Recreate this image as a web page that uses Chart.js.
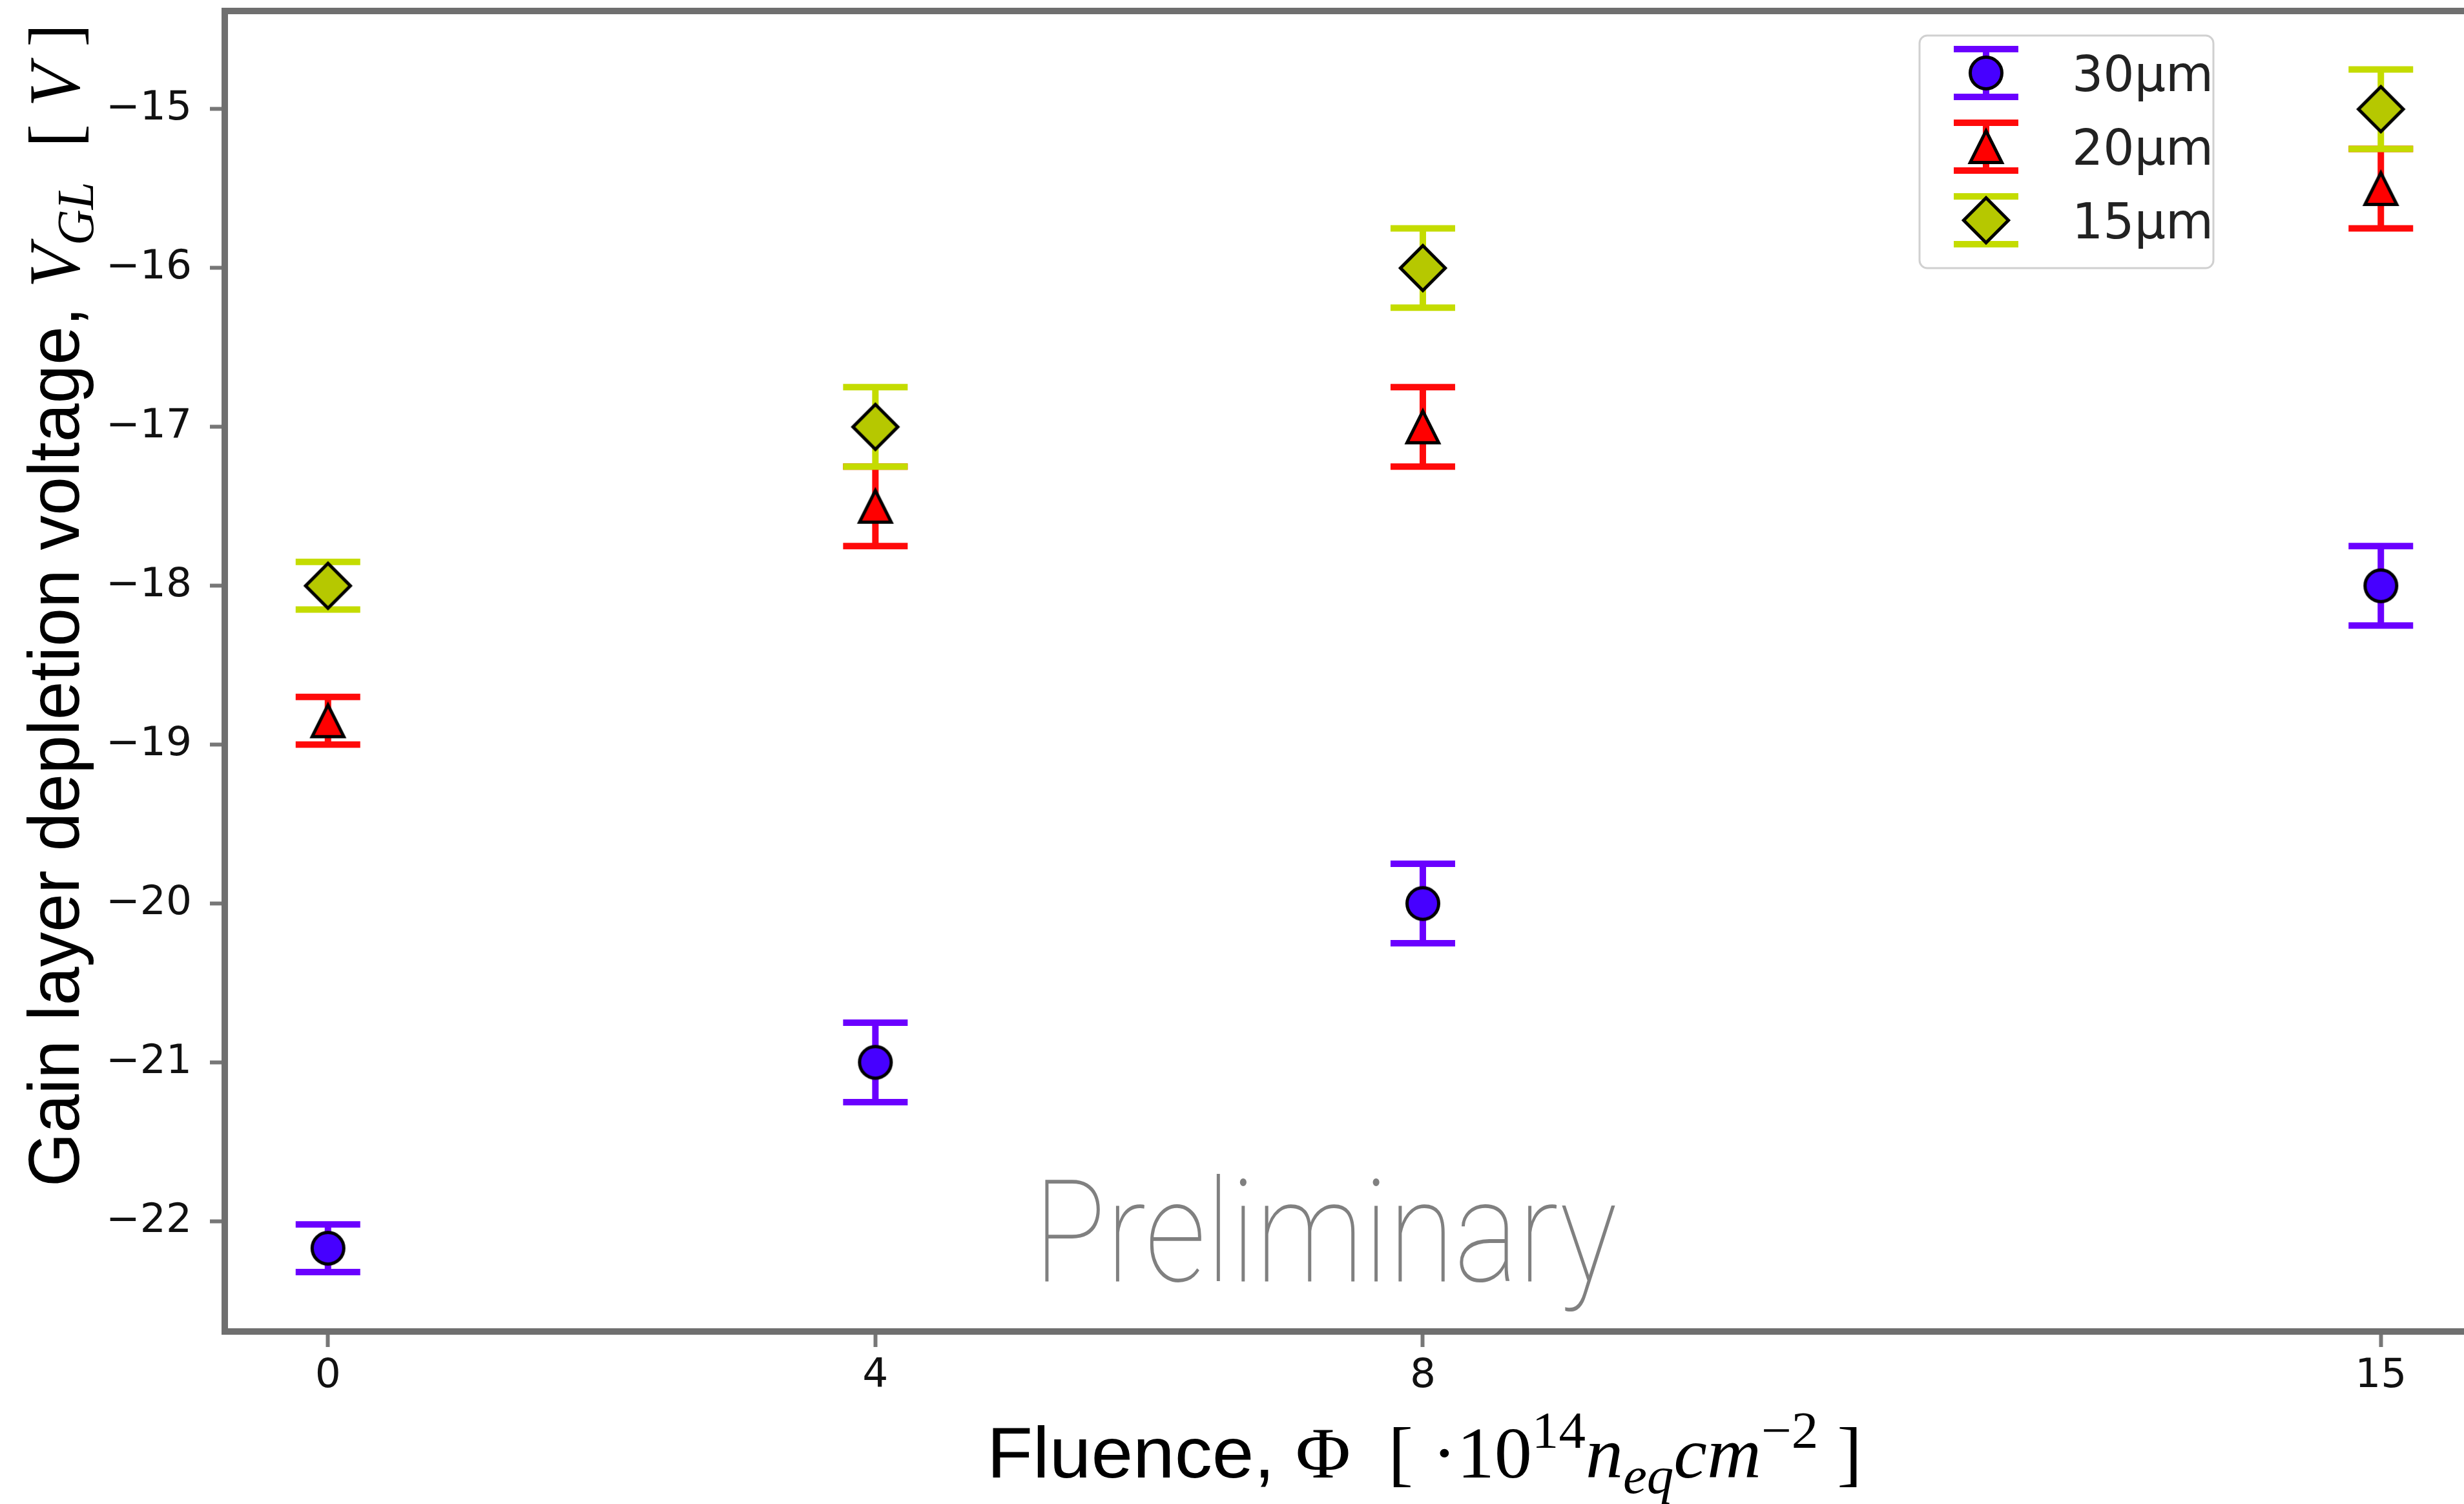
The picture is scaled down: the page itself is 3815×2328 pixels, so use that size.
<!DOCTYPE html>
<html>
<head>
<meta charset="utf-8">
<title>Gain layer depletion voltage vs fluence</title>
<script src="https://cdn.jsdelivr.net/npm/chart.js@4.4.1/dist/chart.umd.min.js"></script>
<style>
  html, body { margin: 0; padding: 0; background: #fff; }
  canvas { display: block; }
</style>
</head>
<body>
<canvas id="vgl" width="3815" height="2328" style="width:3815px;height:2328px"></canvas>
<script>
// fluence in 1e14 neq/cm2, voltages in V
const fluence = [0, 4, 8, 15];
const v30 = [-22.17, -21, -20, -18];
const e30 = [0.15, 0.25, 0.25, 0.25];
const v20 = [-18.85, -17.5, -17, -15.5];
const e20 = [0.15, 0.25, 0.25, 0.25];
const v15 = [-18, -17, -16, -15];
const e15 = [0.15, 0.25, 0.25, 0.25];
const seriesNames = ['30µm', '20µm', '15µm'];
const xTicks = [0, 4, 8, 15];
const yTicks = [-22, -21, -20, -19, -18, -17, -16, -15];

const MS = 49;        // marker size
const CAP = 50;       // half cap width
const FRAME = '#6f6f6f';

// matplotlib-like markers with black edge, drawn once into small canvases
function makeMarker(shape, fill) {
    const lw = 5;
    const half = shape === 'diamond' ? MS / 2 * Math.SQRT2 : MS / 2;
    const size = 2 * Math.ceil(half + lw + 6);
    const c = document.createElement('canvas');
    c.width = c.height = size;
    const g = c.getContext('2d');
    g.translate(size / 2, size / 2);
    g.beginPath();
    if (shape === 'circle') {
        g.arc(0, 0, half, 0, Math.PI * 2);
    } else if (shape === 'triangle') {
        g.moveTo(0, -half); g.lineTo(half, half); g.lineTo(-half, half); g.closePath();
    } else {
        g.moveTo(0, -half); g.lineTo(half, 0); g.lineTo(0, half); g.lineTo(-half, 0); g.closePath();
    }
    g.fillStyle = fill;
    g.fill();
    g.lineWidth = lw;
    g.lineJoin = 'miter';
    g.strokeStyle = '#000';
    g.stroke();
    return c;
}

const markers = [
    makeMarker('circle', '#4600ff'),
    makeMarker('triangle', '#ff0000'),
    makeMarker('diamond', '#b6c800')
];
const barColors = ['#6a00ff', '#ff0a0a', '#c4dc00'];

const toPoints = ys => fluence.map((x, i) => ({ x: x, y: ys[i] }));
const minus = v => (v < 0 ? '\u2212' : '') + Math.abs(v);

function drawErrBar(ctx, x, yTop, yBot, color) {
    ctx.strokeStyle = color;
    ctx.lineWidth = 10;
    ctx.lineCap = 'butt';
    ctx.beginPath();
    ctx.moveTo(x, yTop); ctx.lineTo(x, yBot);
    ctx.moveTo(x - CAP, yTop); ctx.lineTo(x + CAP, yTop);
    ctx.moveTo(x - CAP, yBot); ctx.lineTo(x + CAP, yBot);
    ctx.stroke();
}

// text made of runs (sans / serif / italic, sub and superscripts), squeezed to a width
function drawRuns(ctx, runs, x, y, width, rotated) {
    let total = 0;
    runs.forEach(r => { ctx.font = r.font; r.w = ctx.measureText(r.t).width; total += r.w; });
    ctx.save();
    ctx.translate(x, y);
    if (rotated) ctx.rotate(-Math.PI / 2);
    ctx.scale(width / total, 1);
    ctx.fillStyle = '#000';
    ctx.textBaseline = 'alphabetic';
    let cx = 0;
    runs.forEach(r => { ctx.font = r.font; ctx.fillText(r.t, cx, r.dy || 0); cx += r.w; });
    ctx.restore();
}

const SANS = "112px 'Liberation Sans', Arial, sans-serif";
const SERIF = "112px 'Liberation Serif', 'DejaVu Serif', serif";
const ITAL = "italic 112px 'Liberation Serif', 'DejaVu Serif', serif";
const SMALL = "80px 'Liberation Serif', 'DejaVu Serif', serif";
const SMALL_IT = "italic 80px 'Liberation Serif', 'DejaVu Serif', serif";

const errorBars = {
    id: 'errorBars',
    beforeDatasetsDraw(chart) {
        // watermark
        const ctx = chart.ctx;
        ctx.save();
        ctx.font = "100 220px Roboto, Lato, Inter, 'DejaVu Sans', sans-serif";
        const m = ctx.measureText('Preliminary');
        const ink = m.actualBoundingBoxLeft + m.actualBoundingBoxRight;
        ctx.translate(1618, 1983);
        ctx.scale(883 / ink, 1);
        ctx.fillStyle = '#808080';
        ctx.fillText('Preliminary', m.actualBoundingBoxLeft, 0);
        ctx.restore();
    },
    beforeDatasetDraw(chart, args) {
        const ds = chart.data.datasets[args.index];
        const xs = chart.scales.x, ys = chart.scales.y;
        const ctx = chart.ctx;
        ctx.save();
        ds.data.forEach((p, i) => {
            drawErrBar(ctx, xs.getPixelForValue(p.x),
                ys.getPixelForValue(p.y + ds.errors[i]),
                ys.getPixelForValue(p.y - ds.errors[i]), ds.barColor);
        });
        ctx.restore();
    },
    afterDatasetsDraw(chart) {
        const ctx = chart.ctx;
        const a = chart.chartArea;
        ctx.save();
        ctx.strokeStyle = FRAME;
        ctx.lineWidth = 10;
        ctx.lineCap = 'square';
        ctx.beginPath();
        ctx.moveTo(chart.width + 10, a.top);
        ctx.lineTo(a.left, a.top);
        ctx.lineTo(a.left, a.bottom);
        ctx.lineTo(chart.width + 10, a.bottom);
        ctx.stroke();
        ctx.restore();
    },
    afterDraw(chart) {
        const ctx = chart.ctx;
        // legend
        ctx.save();
        ctx.beginPath();
        ctx.roundRect(2972, 55, 455, 360, 12);
        ctx.fillStyle = 'rgba(255,255,255,0.8)';
        ctx.fill();
        ctx.lineWidth = 3;
        ctx.strokeStyle = '#d0d0d0';
        ctx.stroke();
        const rows = [113, 227, 341];
        ctx.font = "76px 'DejaVu Sans', sans-serif";
        ctx.textBaseline = 'alphabetic';
        rows.forEach((ry, i) => {
            drawErrBar(ctx, 3075, ry - 37, ry + 37, barColors[i]);
            ctx.drawImage(markers[i], 3075 - markers[i].width / 2, ry - markers[i].height / 2);
            ctx.fillStyle = '#222';
            ctx.fillText(seriesNames[i], 3208, ry + 28);
        });
        ctx.restore();

        // axis titles
        drawRuns(ctx, [
            { t: 'Fluence, ', font: SANS },
            { t: 'Φ', font: SERIF },
            { t: '  [ ·10', font: SERIF },
            { t: '14', font: SMALL, dy: -46 },
            { t: 'n', font: ITAL },
            { t: 'eq', font: SMALL_IT, dy: 24 },
            { t: 'cm', font: ITAL },
            { t: '\u22122', font: SMALL, dy: -46 },
            { t: ' ]', font: SERIF }
        ], 1528, 2287, 1355, false);

        drawRuns(ctx, [
            { t: 'Gain layer depletion voltage, ', font: SANS },
            { t: 'V', font: ITAL },
            { t: 'GL', font: SMALL_IT, dy: 22 },
            { t: '  [ ', font: SERIF },
            { t: 'V', font: ITAL },
            { t: ' ]', font: SERIF }
        ], 122, 1837, 1800, true);
    }
};

const tickFont = { family: "'DejaVu Sans', sans-serif", size: 63 };

new Chart(document.getElementById('vgl'), {
    type: 'scatter',
    data: {
        datasets: [
            { label: seriesNames[0], data: toPoints(v30), errors: e30, barColor: barColors[0], pointStyle: markers[0], order: 3 },
            { label: seriesNames[1], data: toPoints(v20), errors: e20, barColor: barColors[1], pointStyle: markers[1], order: 2 },
            { label: seriesNames[2], data: toPoints(v15), errors: e15, barColor: barColors[2], pointStyle: markers[2], order: 1 }
        ]
    },
    options: {
        responsive: false,
        animation: false,
        devicePixelRatio: 1,
        showLine: false,
        layout: { padding: { top: 17, left: 0, right: 0, bottom: 0 } },
        plugins: { legend: { display: false }, tooltip: { enabled: false } },
        scales: {
            x: {
                type: 'linear',
                min: -0.754, max: 15.584,
                afterBuildTicks: s => { s.ticks = xTicks.map(v => ({ value: v })); },
                afterFit: s => { s.height = 267; s.paddingLeft = 0; s.paddingRight = 0; },
                border: { display: false },
                grid: { drawOnChartArea: false, tickLength: 24, tickWidth: 6, tickColor: '#777' },
                ticks: { padding: 8, color: '#111', font: tickFont, maxRotation: 0, autoSkip: false, callback: v => minus(v) }
            },
            y: {
                type: 'linear',
                min: -22.694, max: -14.382,
                afterBuildTicks: s => { s.ticks = yTicks.map(v => ({ value: v })); },
                afterFit: s => { s.width = 348; s.paddingTop = 0; s.paddingBottom = 0; },
                border: { display: false },
                grid: { drawOnChartArea: false, tickLength: 23, tickWidth: 6, tickColor: '#777' },
                ticks: { padding: 28, color: '#111', font: tickFont, autoSkip: false, callback: v => minus(v) }
            }
        }
    },
    plugins: [errorBars]
});
</script>
</body>
</html>
